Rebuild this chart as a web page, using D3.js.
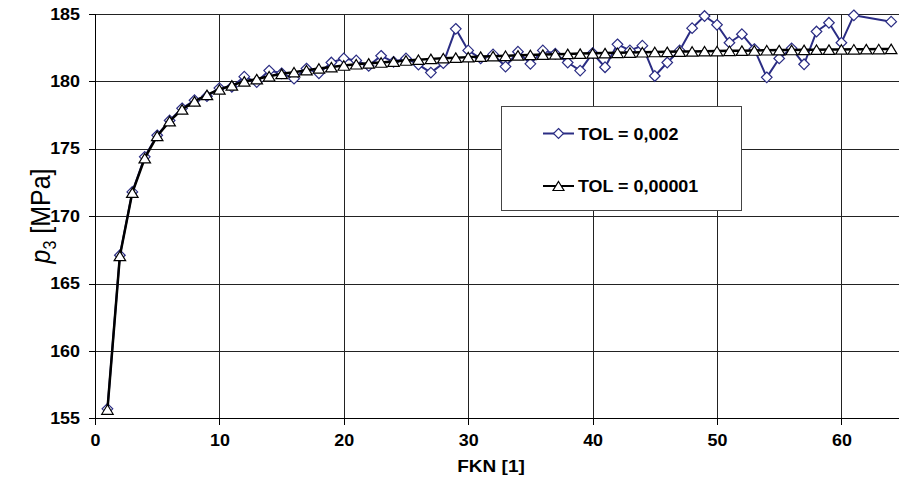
<!DOCTYPE html>
<html>
<head>
<meta charset="utf-8">
<script src="https://cdn.jsdelivr.net/npm/d3@7"></script>
<style>
  body { margin: 0; background: #fff; }
  svg text { font-family: Arial, "Liberation Sans", sans-serif; }
</style>
</head>
<body>
<div class="chart"></div>
<script>
"use strict";

// FKN values (x) for each series
const fknCoarse = [1, 2, 3, 4, 5, 6, 7, 8, 9, 10, 11, 12, 13, 14, 15, 16, 17, 18, 19, 20,
  21, 22, 23, 24, 25, 26, 27, 28, 29, 30, 31, 32, 33, 34, 35, 36, 37, 38, 39, 40,
  41, 42, 43, 44, 45, 46, 47, 48, 49, 50, 51, 52, 53, 54, 55, 56, 57, 58, 59, 60, 61, 64];
const fknFine = [1, 2, 3, 4, 5, 6, 7, 8, 9, 10, 11, 12, 13, 14, 15, 16, 17, 18, 19, 20,
  21, 22, 23, 24, 25, 26, 27, 28, 29, 30, 31, 32, 33, 34, 35, 36, 37, 38, 39, 40,
  41, 42, 43, 44, 45, 46, 47, 48, 49, 50, 51, 52, 53, 54, 55, 56, 57, 58, 59, 60,
  61, 62, 63, 64];

// p3 [MPa], TOL = 0,002
const p3Coarse = [155.7, 167.1, 171.8, 174.4, 176.0, 177.1, 178.0, 178.6, 178.9, 179.5,
  179.6, 180.35, 179.95, 180.8, 180.6, 180.2, 180.95, 180.6, 181.4, 181.7,
  181.55, 181.15, 181.9, 181.45, 181.7, 181.25, 180.65, 181.35, 183.9, 182.3,
  181.7, 182.0, 181.1, 182.2, 181.3, 182.3, 182.05, 181.4, 180.8, 182.1,
  181.05, 182.75, 182.3, 182.65, 180.4, 181.4, 182.3, 183.95, 184.85, 184.2,
  182.87, 183.5, 182.4, 180.3, 181.7, 182.45, 181.27, 183.7, 184.35, 182.87,
  184.9, 184.43];

// p3 [MPa], TOL = 0,00001
const p3Fine = [155.65, 167.05, 171.75, 174.3, 175.95, 177.05, 177.92, 178.52, 179.0, 179.4,
  179.7, 180.0, 180.17, 180.38, 180.56, 180.68, 180.83, 180.96, 181.06, 181.18,
  181.27, 181.34, 181.4, 181.47, 181.55, 181.61, 181.67, 181.72, 181.76, 181.8,
  181.84, 181.87, 181.9, 181.93, 181.96, 181.99, 182.01, 182.04, 182.06, 182.08,
  182.1, 182.12, 182.14, 182.16, 182.18, 182.19, 182.21, 182.22, 182.24, 182.25,
  182.27, 182.28, 182.29, 182.31, 182.32, 182.33, 182.34, 182.35, 182.36, 182.37,
  182.38, 182.39, 182.4, 182.41];

const xTicks = [0, 10, 20, 30, 40, 50, 60];
const yTicks = [155, 160, 165, 170, 175, 180, 185];
const seriesNames = ["TOL = 0,002", "TOL = 0,00001"];

const width = 899;
const height = 486;
const plot = { left: 95, top: 14, bottom: 418.3 };
const stretch = 1.12; // text in the original is a bit wider than tall

const svg = d3
  .select(".chart")
  .append("svg")
  .attr("width", width)
  .attr("height", height);

const x = d3.scaleLinear().domain([0, 65]).range([plot.left, plot.left + 65 * 12.44]);
const y = d3.scaleLinear().domain([155, 185]).range([plot.bottom, plot.top]);

// grid lines
svg
  .append("g")
  .selectAll("line")
  .data(yTicks)
  .join("line")
  .attr("x1", plot.left)
  .attr("x2", width)
  .attr("y1", (d) => Math.round(y(d)) + 0.5)
  .attr("y2", (d) => Math.round(y(d)) + 0.5)
  .attr("stroke", "#222");

svg
  .append("g")
  .selectAll("line")
  .data(xTicks.filter((d) => d > 0))
  .join("line")
  .attr("x1", (d) => Math.round(x(d)) + 0.5)
  .attr("x2", (d) => Math.round(x(d)) + 0.5)
  .attr("y1", plot.top)
  .attr("y2", plot.bottom)
  .attr("stroke", "#222");

// axes
const yAxis = d3.axisLeft(y).tickValues(yTicks).tickSize(7);
const xAxis = d3.axisBottom(x).tickValues(xTicks).tickSize(6).tickPadding(10);

svg
  .append("g")
  .attr("transform", `translate(${Math.round(plot.left) + 0.5},0)`)
  .call(yAxis)
  .call((g) => g.select(".domain").attr("d", `M0,${plot.top}V${plot.bottom}`))
  .call((g) =>
    g
      .selectAll("text")
      .attr("x", -15.5 / stretch)
      .attr("transform", `scale(${stretch},1)`)
      .attr("font-size", "16px")
      .attr("font-weight", "bold")
      .attr("fill", "#000")
  );

svg
  .append("g")
  .attr("transform", `translate(0,${Math.round(plot.bottom) + 0.5})`)
  .call(xAxis)
  .call((g) => g.select(".domain").attr("d", `M${plot.left},0H${width}`))
  .call((g) =>
    g
      .selectAll("text")
      .attr("transform", `scale(${stretch},1)`)
      .attr("font-size", "16px")
      .attr("font-weight", "bold")
      .attr("fill", "#000")
  );

svg.selectAll(".domain, .tick line").attr("stroke", "#000").attr("shape-rendering", "crispEdges");

// axis titles
svg
  .append("text")
  .attr("transform", `translate(491,472) scale(${stretch},1)`)
  .attr("text-anchor", "middle")
  .attr("font-size", "17px")
  .attr("font-weight", "bold")
  .text("FKN [1]");

const yTitle = svg
  .append("text")
  .attr("transform", `translate(50,216) scale(${stretch},1) rotate(-90)`)
  .attr("text-anchor", "middle")
  .attr("font-size", "25px");
yTitle.append("tspan").attr("font-style", "italic").text("p");
yTitle.append("tspan").attr("font-size", "16px").attr("dy", 5).text("3");
yTitle.append("tspan").attr("dy", -5).text(" [MPa]");

// series
const blue = "#2b2d84";
const diamond = (cx, cy, r) => `M${cx},${cy - r}L${cx + r},${cy}L${cx},${cy + r}L${cx - r},${cy}Z`;
const triangle = (cx, cy, w, h) =>
  `M${cx},${cy - h / 2}L${cx + w / 2},${cy + h / 2}L${cx - w / 2},${cy + h / 2}Z`;

const coarse = fknCoarse.map((d, i) => ({ x: d, y: p3Coarse[i] }));
const fine = fknFine.map((d, i) => ({ x: d, y: p3Fine[i] }));

const line = d3
  .line()
  .x((d) => x(d.x))
  .y((d) => y(d.y));

svg
  .append("path")
  .datum(coarse)
  .attr("fill", "none")
  .attr("stroke", blue)
  .attr("stroke-width", 2)
  .attr("stroke-linejoin", "round")
  .attr("d", line);

svg
  .append("g")
  .selectAll("path")
  .data(coarse)
  .join("path")
  .attr("d", (d) => diamond(x(d.x), y(d.y), 5.3))
  .attr("fill", "#fff")
  .attr("stroke", blue)
  .attr("stroke-width", 1.2);

svg
  .append("path")
  .datum(fine)
  .attr("fill", "none")
  .attr("stroke", "#000")
  .attr("stroke-width", 2.5)
  .attr("stroke-linejoin", "round")
  .attr("d", line);

svg
  .append("g")
  .selectAll("path")
  .data(fine)
  .join("path")
  .attr("d", (d) => triangle(x(d.x), y(d.y), 11.5, 9.5))
  .attr("fill", "#fff")
  .attr("stroke", "#000")
  .attr("stroke-width", 1.2);

// legend
const legend = svg.append("g");
legend
  .append("rect")
  .attr("x", 501.5)
  .attr("y", 106.5)
  .attr("width", 240)
  .attr("height", 104)
  .attr("fill", "#fff")
  .attr("stroke", "#444");

const legendRows = [
  { name: seriesNames[0], cy: 133.5, color: blue, mark: (cx, cy) => diamond(cx, cy, 5) },
  { name: seriesNames[1], cy: 186, color: "#000", mark: (cx, cy) => triangle(cx, cy, 11, 9) },
];

legendRows.forEach((r) => {
  legend
    .append("line")
    .attr("x1", 543)
    .attr("x2", 574)
    .attr("y1", r.cy)
    .attr("y2", r.cy)
    .attr("stroke", r.color)
    .attr("stroke-width", 2);
  legend
    .append("path")
    .attr("d", r.mark(558.5, r.cy))
    .attr("fill", "#fff")
    .attr("stroke", r.color)
    .attr("stroke-width", 1.2);
  legend
    .append("text")
    .attr("transform", `translate(578,${r.cy + 6}) scale(${stretch},1)`)
    .attr("font-size", "16px")
    .attr("font-weight", "bold")
    .text(r.name);
});
</script>
</body>
</html>
